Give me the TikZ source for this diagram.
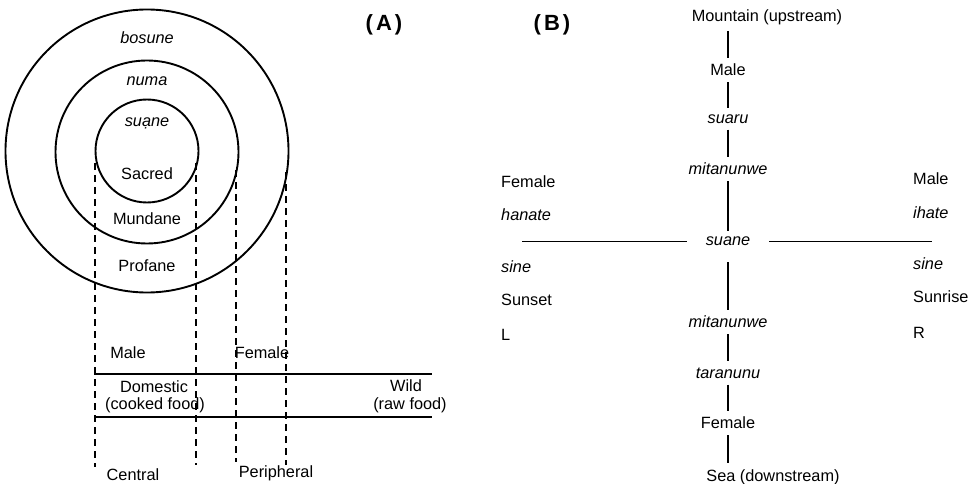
\documentclass[tikz,border=0pt]{standalone}
\usepackage{fontspec}
\setmainfont{Liberation Sans}
\begin{document}
\begin{tikzpicture}[x=1pt,y=-1pt,
  lbl/.style={inner sep=0pt, font=\fontsize{16.3}{19}\selectfont},
  ital/.style={inner sep=0pt, font=\fontsize{16.3}{19}\selectfont\itshape},
  ring/.style={draw, circle, line width=1.9pt, inner sep=0pt},
  divider/.style={dash pattern=on 7pt off 5pt, line width=1.5pt},
  rule/.style={line width=1.5pt},
  axis/.style={line width=1.5pt},
  bn/.style={inner xsep=0pt, inner ysep=6pt, font=\fontsize{16.3}{19}\selectfont},
  bi/.style={bn, font=\fontsize{16.3}{19}\selectfont\itshape},
  panel/.style={inner sep=0pt, font=\fontsize{22}{26}\selectfont\bfseries}
]
\useasboundingbox (0,0) rectangle (975,484);

% ---------- (A) concentric spheres ----------
\node[panel] (pa) at (384,25) {(\kern3pt A\kern3pt)};

\node[ring, minimum size=283pt] (outer) at (147,151) {};
\node[ring, minimum size=183pt] (middle) at (147,152) {};
\node[ring, minimum size=103pt] (inner) at (147,151) {};

\node[ital] (bosune) at (147,38) {bosune};
\node[ital] (numa) at (147,81) {numa};
\node[ital] (suaneA) at (147,123) {suạne};
\node[lbl] (sacred) at (147,174) {Sacred};
\node[lbl] (mundane) at (147,219) {Mundane};
\node[lbl] (profane) at (147,266) {Profane};

% dashed projections of the circle boundaries
\coordinate (d1t) at (95,163);  \coordinate (d1b) at (95,467);
\coordinate (d2t) at (196,163); \coordinate (d2b) at (196,465);
\coordinate (d3t) at (236,170); \coordinate (d3b) at (236,462);
\coordinate (d4t) at (286,172); \coordinate (d4b) at (286,465);
\draw[divider] (d1t) -- (d1b);
\draw[divider] (d2t) -- (d2b);
\draw[divider] (d3t) -- (d3b);
\draw[divider] (d4t) -- (d4b);

% domestic / wild band
\coordinate (r1l) at (94,374); \coordinate (r1r) at (432,374);
\coordinate (r2l) at (94,417); \coordinate (r2r) at (432,417);
\draw[rule] (r1l) -- (r1r);
\draw[rule] (r2l) -- (r2r);

\node[lbl] (maleA) at (128,353) {Male};
\node[lbl] (femaleA) at (262,353) {Female};
\node[lbl] (domestic) at (154,387) {Domestic};
\node[lbl] (cooked) at (155,405) {(cooked food)};
\node[lbl] (wild) at (406,386) {Wild};
\node[lbl] (raw) at (410,405) {(raw food)};
\node[lbl] (central) at (133,475) {Central};
\node[lbl] (peripheral) at (276,473) {Peripheral};

% ---------- (B) cardinal axes ----------
\node[panel] (pb) at (552,25) {(\kern3pt B\kern3pt)};

\node[bn] (mount) at (767,17) {Mountain (upstream)};
\node[bn] (bmale) at (728,70) {Male};
\node[bi] (suaru) at (728,119) {suaru};
\node[bi] (mitaU) at (728,169) {mitanunwe};
\node[bi, inner xsep=19pt] (suane) at (728,241.5) {suane};
\node[bi] (mitaD) at (728,322) {mitanunwe};
\node[bi] (tara) at (728,373) {taranunu};
\node[bn] (bfem) at (728,423) {Female};
\node[bn] (sea) at (773,477) {Sea (downstream)};

\draw[axis] (mount.south -| bmale.north) -- (bmale.north);
\draw[axis] (bmale) -- (suaru);
\draw[axis] (suaru) -- (mitaU);
\draw[axis] (mitaU) -- (suane);
\draw[axis, shorten <=10pt] (suane) -- (mitaD);
\draw[axis] (mitaD) -- (tara);
\draw[axis] (tara) -- (bfem);
\draw[axis] (bfem.south) -- (sea.north -| bfem.south);

\coordinate (west) at (522,241.5);
\coordinate (east) at (932,241.5);
\draw[axis] (west) -- (suane.west);
\draw[axis] (suane.east) -- (east);

\node[lbl, anchor=west] (lfem) at (501,182) {Female};
\node[ital, anchor=west] (hanate) at (501,215) {hanate};
\node[ital, anchor=west] (lsine) at (501,267) {sine};
\node[lbl, anchor=west] (sunset) at (501,300) {Sunset};
\node[lbl, anchor=west] (lL) at (501,335) {L};

\node[lbl, anchor=west] (rmale) at (913,179) {Male};
\node[ital, anchor=west] (ihate) at (913,213) {ihate};
\node[ital, anchor=west] (rsine) at (913,264) {sine};
\node[lbl, anchor=west] (sunrise) at (913,297) {Sunrise};
\node[lbl, anchor=west] (rR) at (913,333) {R};
\end{tikzpicture}
\end{document}
